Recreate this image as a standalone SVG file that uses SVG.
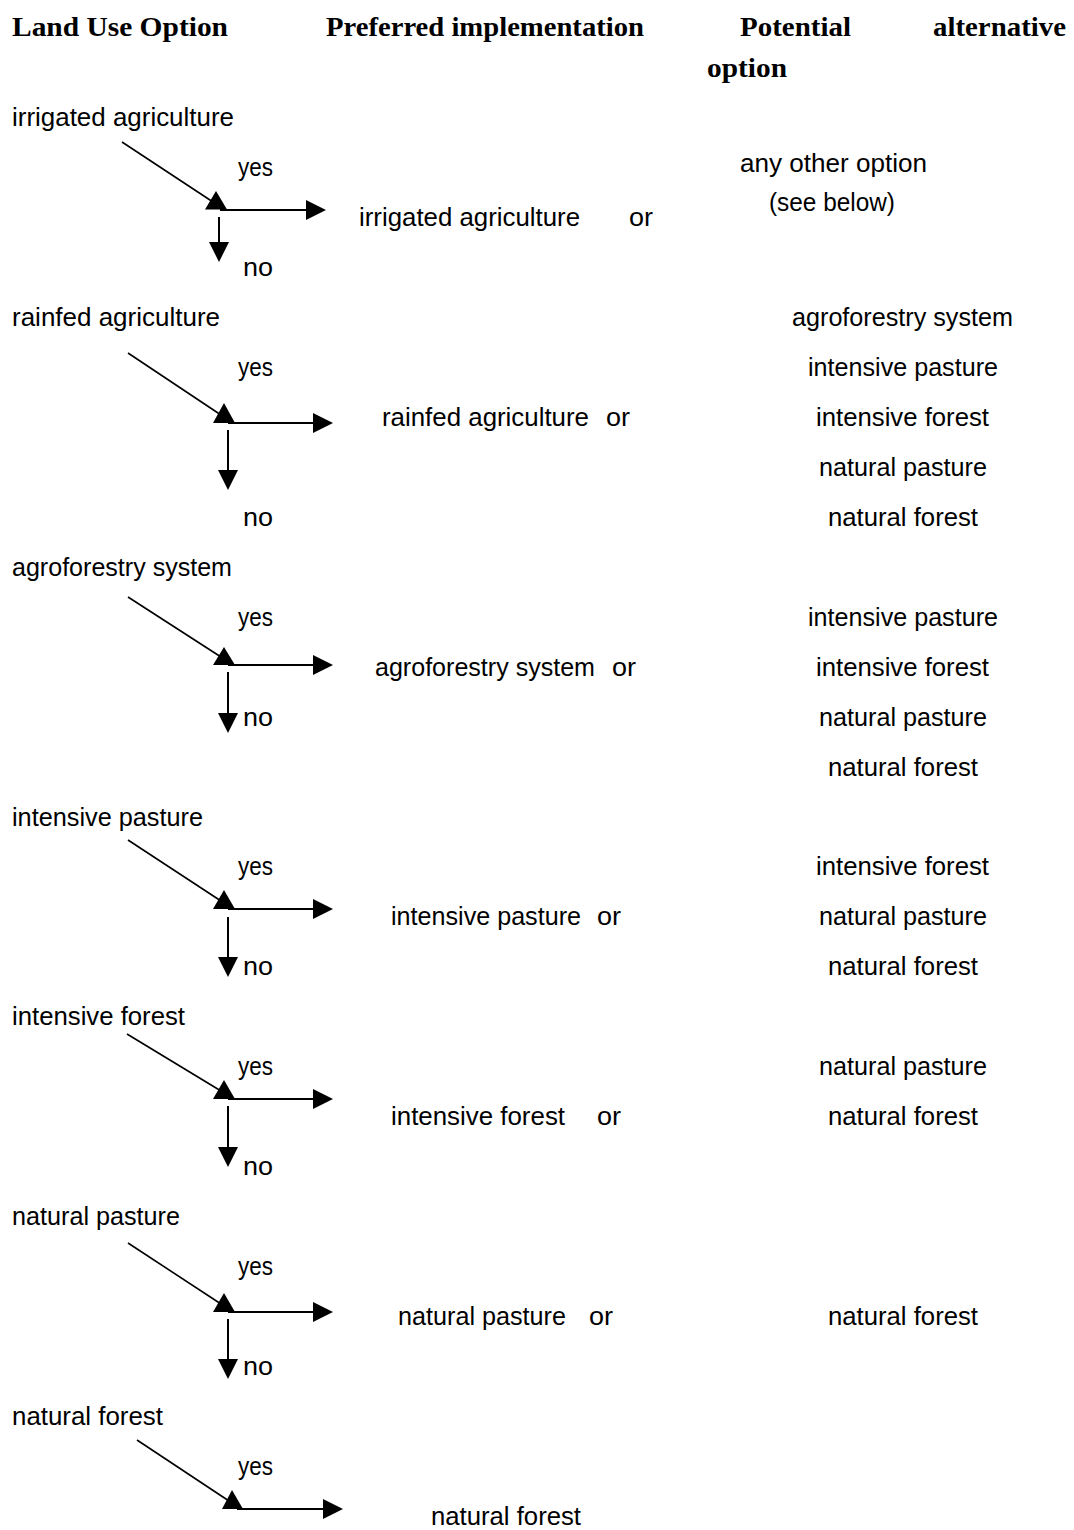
<svg xmlns="http://www.w3.org/2000/svg" width="1074" height="1530" viewBox="0 0 1074 1530">
<style>
.h{font-family:"Liberation Serif","Times New Roman",serif;font-weight:bold;font-size:28px;fill:#000}
.t{font-family:"Liberation Sans",Arial,sans-serif;font-size:25px;fill:#000}
.ln{stroke:#000;stroke-width:2;fill:none}
.dg{stroke:#000;stroke-width:1.6;fill:none}
.ah{fill:#000;stroke:none}
</style>
<rect width="1074" height="1530" fill="#fff"/>
<g id="header">
<text class="h" x="12" y="36" textLength="216" lengthAdjust="spacingAndGlyphs">Land Use Option</text>
<text class="h" x="326" y="36" textLength="318" lengthAdjust="spacingAndGlyphs">Preferred implementation</text>
<text class="h" x="740" y="36" textLength="111" lengthAdjust="spacingAndGlyphs">Potential</text>
<text class="h" x="933" y="36" textLength="133" lengthAdjust="spacingAndGlyphs">alternative</text>
<text class="h" x="707" y="77" textLength="80" lengthAdjust="spacingAndGlyphs">option</text>
</g>
<g id="connectors">
<!-- block 1 -->
<line class="dg" x1="122" y1="142" x2="213" y2="202"/>
<polygon class="ah" points="216,191 205,209.5 227,209.5"/>
<line class="ln" x1="220" y1="210" x2="308" y2="210"/>
<polygon class="ah" points="306,200 326,210 306,220"/>
<line class="ln" x1="219" y1="217" x2="219" y2="244"/>
<polygon class="ah" points="209,242 219,262 229,242"/>
<!-- block 2 -->
<line class="dg" x1="128" y1="353" x2="221" y2="415"/>
<polygon class="ah" points="224,403 213,423 235,423"/>
<line class="ln" x1="228" y1="423" x2="315" y2="423"/>
<polygon class="ah" points="313,413 333,423 313,433"/>
<line class="ln" x1="228" y1="430" x2="228" y2="472"/>
<polygon class="ah" points="218,470 228,490 238,470"/>
<!-- block 3 -->
<line class="dg" x1="128" y1="597" x2="221" y2="657"/>
<polygon class="ah" points="224,647 213,665 235,665"/>
<line class="ln" x1="228" y1="665" x2="315" y2="665"/>
<polygon class="ah" points="313,655 333,665 313,675"/>
<line class="ln" x1="228" y1="672" x2="228" y2="715"/>
<polygon class="ah" points="218,713 228,733 238,713"/>
<!-- block 4 -->
<line class="dg" x1="128" y1="840" x2="221" y2="901"/>
<polygon class="ah" points="224,890 213,909 235,909"/>
<line class="ln" x1="228" y1="909" x2="315" y2="909"/>
<polygon class="ah" points="313,899 333,909 313,919"/>
<line class="ln" x1="228" y1="917" x2="228" y2="959"/>
<polygon class="ah" points="218,957 228,977 238,957"/>
<!-- block 5 -->
<line class="dg" x1="127" y1="1034" x2="221" y2="1091"/>
<polygon class="ah" points="224,1080 213,1099 235,1099"/>
<line class="ln" x1="228" y1="1099" x2="315" y2="1099"/>
<polygon class="ah" points="313,1089 333,1099 313,1109"/>
<line class="ln" x1="228" y1="1106" x2="228" y2="1149"/>
<polygon class="ah" points="218,1147 228,1167 238,1147"/>
<!-- block 6 -->
<line class="dg" x1="128" y1="1243" x2="221" y2="1304"/>
<polygon class="ah" points="224,1293 213,1312 235,1312"/>
<line class="ln" x1="228" y1="1312" x2="315" y2="1312"/>
<polygon class="ah" points="313,1302 333,1312 313,1322"/>
<line class="ln" x1="228" y1="1319" x2="228" y2="1361"/>
<polygon class="ah" points="218,1359 228,1379 238,1359"/>
<!-- block 7 -->
<line class="dg" x1="137" y1="1440" x2="229" y2="1501"/>
<polygon class="ah" points="232,1490 222,1509 243,1509"/>
<line class="ln" x1="237" y1="1509" x2="325" y2="1509"/>
<polygon class="ah" points="323,1499 343,1509 323,1519"/>
</g>
<g id="block1">
<text class="t" x="12" y="126" textLength="222" lengthAdjust="spacingAndGlyphs">irrigated agriculture</text>
<text class="t" x="238" y="176" textLength="35" lengthAdjust="spacingAndGlyphs">yes</text>
<text class="t" x="740" y="172" textLength="187" lengthAdjust="spacingAndGlyphs">any other option</text>
<text class="t" x="769" y="211" textLength="126" lengthAdjust="spacingAndGlyphs">(see below)</text>
<text class="t" x="359" y="226" textLength="221" lengthAdjust="spacingAndGlyphs">irrigated agriculture</text>
<text class="t" x="629" y="226" textLength="24" lengthAdjust="spacingAndGlyphs">or</text>
<text class="t" x="243" y="276" textLength="30" lengthAdjust="spacingAndGlyphs">no</text>
</g>
<g id="block2">
<text class="t" x="12" y="326" textLength="208" lengthAdjust="spacingAndGlyphs">rainfed agriculture</text>
<text class="t" x="792" y="326" textLength="221" lengthAdjust="spacingAndGlyphs">agroforestry system</text>
<text class="t" x="238" y="376" textLength="35" lengthAdjust="spacingAndGlyphs">yes</text>
<text class="t" x="808" y="376" textLength="190" lengthAdjust="spacingAndGlyphs">intensive pasture</text>
<text class="t" x="382" y="426" textLength="207" lengthAdjust="spacingAndGlyphs">rainfed agriculture</text>
<text class="t" x="606" y="426" textLength="24" lengthAdjust="spacingAndGlyphs">or</text>
<text class="t" x="816" y="426" textLength="173" lengthAdjust="spacingAndGlyphs">intensive forest</text>
<text class="t" x="819" y="476" textLength="168" lengthAdjust="spacingAndGlyphs">natural pasture</text>
<text class="t" x="243" y="526" textLength="30" lengthAdjust="spacingAndGlyphs">no</text>
<text class="t" x="828" y="526" textLength="150" lengthAdjust="spacingAndGlyphs">natural forest</text>
</g>
<g id="block3">
<text class="t" x="12" y="576" textLength="220" lengthAdjust="spacingAndGlyphs">agroforestry system</text>
<text class="t" x="238" y="626" textLength="35" lengthAdjust="spacingAndGlyphs">yes</text>
<text class="t" x="808" y="626" textLength="190" lengthAdjust="spacingAndGlyphs">intensive pasture</text>
<text class="t" x="375" y="676" textLength="220" lengthAdjust="spacingAndGlyphs">agroforestry system</text>
<text class="t" x="612" y="676" textLength="24" lengthAdjust="spacingAndGlyphs">or</text>
<text class="t" x="816" y="676" textLength="173" lengthAdjust="spacingAndGlyphs">intensive forest</text>
<text class="t" x="243" y="726" textLength="30" lengthAdjust="spacingAndGlyphs">no</text>
<text class="t" x="819" y="726" textLength="168" lengthAdjust="spacingAndGlyphs">natural pasture</text>
<text class="t" x="828" y="776" textLength="150" lengthAdjust="spacingAndGlyphs">natural forest</text>
</g>
<g id="block4">
<text class="t" x="12" y="826" textLength="191" lengthAdjust="spacingAndGlyphs">intensive pasture</text>
<text class="t" x="238" y="875" textLength="35" lengthAdjust="spacingAndGlyphs">yes</text>
<text class="t" x="816" y="875" textLength="173" lengthAdjust="spacingAndGlyphs">intensive forest</text>
<text class="t" x="391" y="925" textLength="190" lengthAdjust="spacingAndGlyphs">intensive pasture</text>
<text class="t" x="597" y="925" textLength="24" lengthAdjust="spacingAndGlyphs">or</text>
<text class="t" x="819" y="925" textLength="168" lengthAdjust="spacingAndGlyphs">natural pasture</text>
<text class="t" x="243" y="975" textLength="30" lengthAdjust="spacingAndGlyphs">no</text>
<text class="t" x="828" y="975" textLength="150" lengthAdjust="spacingAndGlyphs">natural forest</text>
</g>
<g id="block5">
<text class="t" x="12" y="1025" textLength="173" lengthAdjust="spacingAndGlyphs">intensive forest</text>
<text class="t" x="238" y="1075" textLength="35" lengthAdjust="spacingAndGlyphs">yes</text>
<text class="t" x="819" y="1075" textLength="168" lengthAdjust="spacingAndGlyphs">natural pasture</text>
<text class="t" x="391" y="1125" textLength="174" lengthAdjust="spacingAndGlyphs">intensive forest</text>
<text class="t" x="597" y="1125" textLength="24" lengthAdjust="spacingAndGlyphs">or</text>
<text class="t" x="828" y="1125" textLength="150" lengthAdjust="spacingAndGlyphs">natural forest</text>
<text class="t" x="243" y="1175" textLength="30" lengthAdjust="spacingAndGlyphs">no</text>
</g>
<g id="block6">
<text class="t" x="12" y="1225" textLength="168" lengthAdjust="spacingAndGlyphs">natural pasture</text>
<text class="t" x="238" y="1275" textLength="35" lengthAdjust="spacingAndGlyphs">yes</text>
<text class="t" x="398" y="1325" textLength="168" lengthAdjust="spacingAndGlyphs">natural pasture</text>
<text class="t" x="589" y="1325" textLength="24" lengthAdjust="spacingAndGlyphs">or</text>
<text class="t" x="828" y="1325" textLength="150" lengthAdjust="spacingAndGlyphs">natural forest</text>
<text class="t" x="243" y="1375" textLength="30" lengthAdjust="spacingAndGlyphs">no</text>
</g>
<g id="block7">
<text class="t" x="12" y="1425" textLength="151" lengthAdjust="spacingAndGlyphs">natural forest</text>
<text class="t" x="238" y="1475" textLength="35" lengthAdjust="spacingAndGlyphs">yes</text>
<text class="t" x="431" y="1525" textLength="150" lengthAdjust="spacingAndGlyphs">natural forest</text>
</g>
</svg>
